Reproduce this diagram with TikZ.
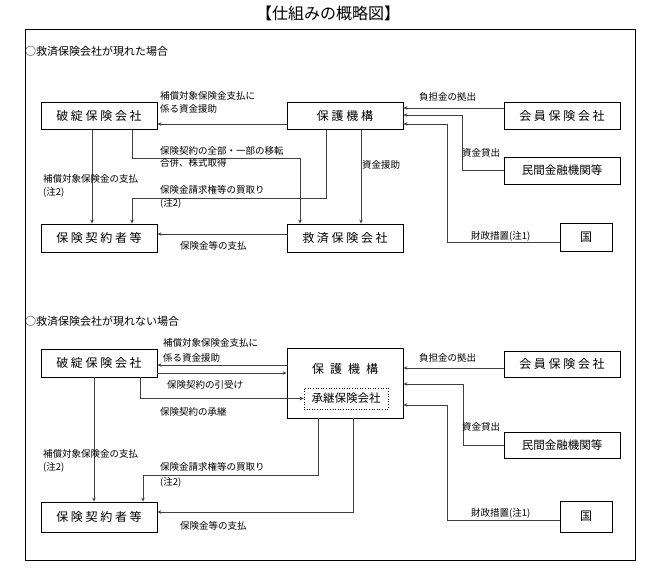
\documentclass[tikz,border=0pt]{standalone}
\usepackage{fontspec}
\setmainfont{Noto Sans CJK JP}
\usetikzlibrary{arrows.meta, calc}

\begin{document}
\begin{tikzpicture}[x=1pt, y=-1pt]
    \tikzset{
        company box/.style={
                draw=black, line width=0.8pt, minimum width=116pt, minimum height=27pt,
                inner sep=0pt, font=\fontsize{12}{14}\selectfont
            },
        flow label/.style={
                font=\fontsize{9.5}{11}\selectfont, anchor=west, inner sep=0pt
            },
        case title/.style={
                font=\fontsize{11}{13}\selectfont, anchor=west, inner sep=0pt
            },
        fund arrow/.style={
                -{Stealth[length=4pt, width=3.5pt]}, line width=0.7pt, draw=black!75
            }
    }
    \useasboundingbox (0,0) rectangle (656,573);

    \node[font=\fontsize{16}{18}\selectfont] (title) at (328,13) {【仕組みの概略図】};
    \draw[line width=0.8pt] (25,29) rectangle (635,560);

    % Case 1
    \node[case title] (case1) at (25,51) {○救済保険会社が現れた場合};
    \node[company box] (hatan1) at (99,116) {破 綻 保 険 会 社};
    \node[company box] (hogo1) at (345,116) {保 護 機 構};
    \node[company box] (kaiin1) at (562,116) {会 員 保 険 会 社};
    \node[company box, font=\fontsize{11.5}{14}\selectfont] (minkan1) at (562,170.5) {民間金融機関等};
    \node[company box, minimum width=52pt, minimum height=28pt] (kuni1) at (586,237) {国};
    \node[company box, minimum height=28pt] (kyusai1) at (345,238) {救 済 保 険 会 社};
    \node[company box, minimum height=28pt] (keiyaku1) at (99,238) {保 険 契 約 者 等};

    \draw[fund arrow] ($(hogo1.west)+(0,8)$) -- ($(hatan1.east)+(0,8)$);
    \draw[fund arrow] ($(hatan1.south)+(-7,0)$) -- ($(keiyaku1.north)+(-7,0)$);
    \draw[fund arrow] ($(hatan1.south)+(33,0)$) -- ++(0,28) -| ($(kyusai1.north)+(-45,0)$);
    \draw[fund arrow] ($(hogo1.south)+(-19,0)$) -- ++(0,68) -| ($(keiyaku1.north)+(33,0)$);
    \draw[fund arrow] ($(hogo1.south)+(16,0)$) -- ($(kyusai1.north)+(16,0)$);
    \draw[fund arrow] ($(kyusai1.west)+(0,-4)$) -- ($(keiyaku1.east)+(0,-4)$);
    \draw[fund arrow] ($(kaiin1.west)+(0,-8)$) -- ($(hogo1.east)+(0,-8)$);
    \draw[fund arrow] (minkan1.west) -- ++(-41,0) |- ($(hogo1.east)+(0,-1)$);
    \draw[fund arrow] ($(kuni1.west)+(0,5)$) -- ++(-112,0) |- ($(hogo1.east)+(0,8)$);

    \node[flow label] (hoshoA1) at (160,96) {補償対象保険金支払に};
    \node[flow label] (hoshoB1) at (160,109) {係る資金援助};
    \node[flow label] (iten1) at (160,151) {保険契約の全部・一部の移転};
    \node[flow label] (gappei1) at (160,163) {合併、株式取得};
    \node[flow label] (shiharai1) at (43,179) {補償対象保険金の支払};
    \node[flow label] (chuA1) at (43,192) {(注2)};
    \node[flow label] (kaitori1) at (160,190) {保険金請求権等の買取り};
    \node[flow label] (chuB1) at (160,203) {(注2)};
    \node[flow label] (enjo1) at (362,165) {資金援助};
    \node[flow label] (hokenkin1) at (180,246) {保険金等の支払};
    \node[flow label] (futan1) at (419,97) {負担金の拠出};
    \node[flow label] (kashidashi1) at (462,153) {資金貸出};
    \node[flow label] (zaisei1) at (471,236) {財政措置(注1)};

    % Case 2
    \node[case title] (case2) at (25,321) {○救済保険会社が現れない場合};
    \node[company box, minimum height=28pt] (hatan2) at (99,363) {破 綻 保 険 会 社};
    \node[company box, minimum height=70pt] (hogo2) at (345,383) {};
    \node[font=\fontsize{12}{14}\selectfont] (hogo2name) at (345,369) {保\hspace{6pt}護\hspace{6pt}機\hspace{6pt}構};
    \node[draw=black, dotted, line width=0.6pt, minimum width=84pt, minimum height=21pt, inner sep=0pt,
        font=\fontsize{11.5}{14}\selectfont] (shokei) at (346,398.5) {承継保険会社};
    \node[company box, minimum height=26pt] (kaiin2) at (562,364) {会 員 保 険 会 社};
    \node[company box, minimum height=26pt, font=\fontsize{11.5}{14}\selectfont] (minkan2) at (562,445) {民間金融機関等};
    \node[company box, minimum width=52pt, minimum height=31pt] (kuni2) at (586,516.5) {国};
    \node[company box, minimum height=30pt] (keiyaku2) at (99,517) {保 険 契 約 者 等};

    \draw[fund arrow] ($(hogo2.west)+(0,-18)$) -- ($(hatan2.east)+(0,2)$);
    \draw[fund arrow] ($(hatan2.east)+(0,10)$) -- ($(hogo2.west)+(0,-10)$);
    \draw[fund arrow] ($(hatan2.south)+(41,0)$) |- (shokei.west);
    \draw[fund arrow] ($(hatan2.south)+(-5,0)$) -- ($(keiyaku2.north)+(-5,0)$);
    \draw[fund arrow] ($(hogo2.south)+(-27,0)$) -- ++(0,57) -| ($(keiyaku2.north)+(44,0)$);
    \draw[fund arrow] ($(hogo2.south)+(8,0)$) |- ($(keiyaku2.east)+(0,-5)$);
    \draw[fund arrow] ($(kaiin2.west)+(0,4)$) -- ($(hogo2.east)+(0,-15)$);
    \draw[fund arrow] (minkan2.west) -- ++(-40,0) |- ($(hogo2.east)+(0,1)$);
    \draw[fund arrow] ($(kuni2.west)+(0,3.5)$) -- ++(-112,0) |- ($(hogo2.east)+(0,22)$);

    \node[flow label] (hoshoA2) at (163,343) {補償対象保険金支払に};
    \node[flow label] (hoshoB2) at (163,358) {係る資金援助};
    \node[flow label] (hikiuke2) at (167,385) {保険契約の引受け};
    \node[flow label] (shokei2) at (160,412) {保険契約の承継};
    \node[flow label] (shiharai2) at (43,454) {補償対象保険金の支払};
    \node[flow label] (chuA2) at (43,467) {(注2)};
    \node[flow label] (kaitori2) at (160,467) {保険金請求権等の買取り};
    \node[flow label] (chuB2) at (160,482) {(注2)};
    \node[flow label] (hokenkin2) at (180,526) {保険金等の支払};
    \node[flow label] (futan2) at (419,358) {負担金の拠出};
    \node[flow label] (kashidashi2) at (462,427) {資金貸出};
    \node[flow label] (zaisei2) at (471,513) {財政措置(注1)};
\end{tikzpicture}
\end{document}
